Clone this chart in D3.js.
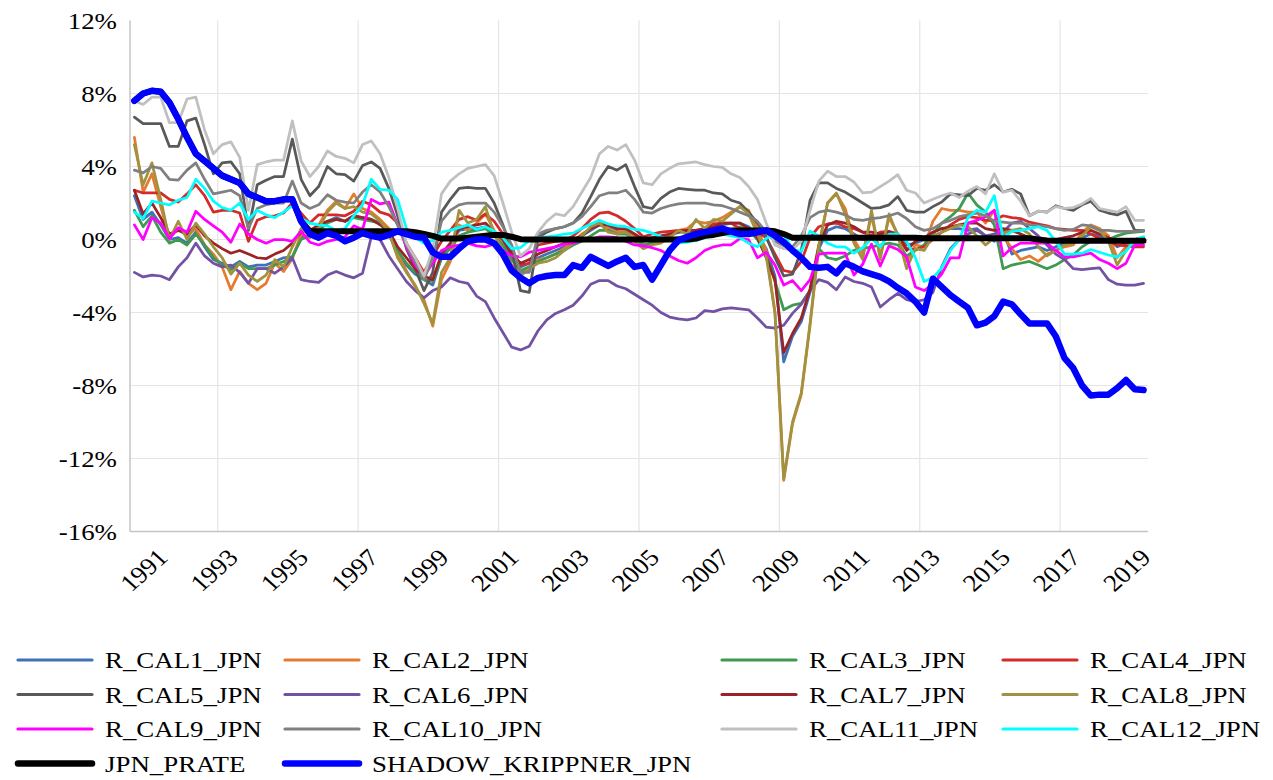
<!DOCTYPE html>
<html>
<head>
<meta charset="utf-8">
<script src="https://cdn.jsdelivr.net/npm/d3@7"></script>
<style>
  html, body { margin: 0; padding: 0; background: #ffffff; }
  svg { display: block; }
  text { font-family: "Liberation Serif", "Times New Roman", Times, serif; }
</style>
</head>
<body>
<svg id="chart" width="1273" height="780"></svg>
<script>
// Quarterly observations, 1990Q2 .. 2019Q1
const startYear = 1990, startQuarter = 2, quarterCount = 116;
const quarters = d3.range(quarterCount).map(k => {
  const q = startQuarter - 1 + k;
  return `${startYear + Math.floor(q / 4)}Q${(q % 4) + 1}`;
});
const yearLabels = ["1991","1993","1995","1997","1999","2001","2003","2005","2007","2009","2011","2013","2015","2017","2019"];
const gridQuarters = ["1992Q4","1996Q4","2000Q4","2004Q4","2008Q4","2012Q4","2016Q4"];
const yTickValues = [-16, -12, -8, -4, 0, 4, 8, 12];

// Rates, percent
const R_CAL1_JPN = [
  2.4, 1.1, 1.5, 0.8, 0.0, 0.1, -0.2, 0.4, -0.4, -1.1,
  -1.3, -1.5, -1.2, -1.5, -1.4, -1.4, -1.2, -1.0, -0.95, 0.1,
  0.2, 0.5, 1.0, 1.2, 1.0, 1.3, 1.2, 1.1, 0.9, 0.3,
  -0.8, -1.4, -1.9, -2.2, -2.5, -1.0, -0.4, 0.5, 0.6, 0.6,
  0.7, 0.3, -0.2, -1.0, -1.5, -1.3, -1.0, -0.8, -0.6, -0.4,
  -0.1, 0.2, 0.5, 0.8, 0.7, 0.5, 0.5, 0.2, -0.1, 0.0,
  0.1, 0.2, 0.4, 0.4, 0.5, 0.5, 0.6, 0.8, 0.9, 0.9,
  0.7, 0.3, -0.5, -2.0, -6.7, -5.3, -4.5, -2.9, -0.5, 0.5,
  0.7, 0.6, 0.3, 0.0, 0.2, 0.0, 0.3, 0.2, -0.3, -0.2,
  0.0, 0.4, 0.6, 0.6, 0.6, 0.5, 0.6, 0.2, -0.1, 0.4,
  -0.8, -0.6, -0.5, -0.4, -0.6, -0.4, -0.2, -0.1, 0.1, 0.3,
  0.2, 0.0, -0.4, -0.2, 0.0, 0.1
];
const R_CAL2_JPN = [
  5.6, 2.6, 3.6, 1.8, 0.1, 0.6, 0.2, 0.6, -0.3, -0.8,
  -1.5, -2.75, -1.75, -2.4, -2.75, -2.4, -1.3, -1.75, -1.05, 0.3,
  0.1, 0.8, 1.6, 2.1, 1.7, 2.5, 1.7, 1.5, 1.1, 0.6,
  -0.8, -1.7, -2.6, -3.3, -4.75, -2.2, -1.2, 0.8, 0.5, 0.9,
  1.4, 0.5, -0.3, -1.4, -1.9, -1.5, -1.1, -1.0, -0.8, -0.5,
  -0.1, 0.3, 0.6, 1.0, 0.6, 0.4, 0.6, 0.2, -0.3, -0.2,
  0.0, 0.3, 0.5, 0.6, 1.0, 0.9, 1.0, 1.2, 1.5, 1.8,
  1.6, 0.6, -0.6, -4.0, -13.2, -10.1, -8.5, -4.7, -0.4, 2.0,
  2.5, 1.7, 0.0, -0.8, 1.3, -0.9, 1.2, 0.3, -1.2, -0.3,
  -0.4, 1.0, 1.7, 1.6, 1.6, 1.5, 1.5, 0.9, 1.6, 0.2,
  -0.5, -1.1, -0.9, -1.2, -0.8, -0.6, -0.4, -0.3, 0.4, 0.8,
  0.6, 0.2, -1.0, -0.4, 0.0, 0.1
];
const R_CAL3_JPN = [
  1.6, 0.7, 1.3, 0.4, -0.2, 0.0, -0.3, 0.3, -0.3, -1.0,
  -1.4, -1.65, -1.3, -1.6, -1.6, -1.6, -1.4, -1.2, -0.95, 0.0,
  0.2, 0.5, 0.9, 1.1, 1.0, 1.2, 1.1, 1.0, 0.9, 0.3,
  -0.6, -1.3, -1.8, -2.2, -2.3, -1.0, -0.5, 0.2, 0.4, 0.5,
  0.6, 0.2, -0.3, -1.1, -1.7, -1.5, -1.2, -1.0, -0.8, -0.6,
  -0.3, -0.1, 0.2, 0.5, 0.5, 0.3, 0.3, 0.0, -0.3, -0.2,
  -0.1, 0.0, 0.1, 0.2, 0.3, 0.3, 0.4, 0.5, 0.6, 0.7,
  0.5, 0.0, -0.8, -2.3, -3.85, -3.6, -3.5, -2.8, -0.5, -1.0,
  -1.1, -0.9, -0.6, -0.5, -0.4, -0.3, -0.2, -0.3, -0.9, -0.6,
  -0.3, 0.3, 0.9, 1.25, 1.7, 2.55, 1.9, 1.5, 0.8, -1.6,
  -1.4, -1.3, -1.2, -1.4, -1.6, -1.4, -1.1, -0.85, -0.4, -0.1,
  -0.1, 0.0, 0.2, 0.35, 0.4, 0.45
];
const R_CAL4_JPN = [
  2.7, 2.55, 2.55, 2.55, 2.2, 2.05, 2.5, 3.0, 2.4, 1.5,
  1.6, 1.6, 1.45, -0.1, 1.05, 1.25, 1.3, 1.45, 2.0, 1.45,
  0.9, 1.35, 1.35, 1.35, 1.3, 1.55, 2.1, 1.9, 1.5, 1.35,
  0.9, -0.2, -1.0, -1.8, -0.9, -0.1, 0.5, 1.1, 1.25, 1.05,
  1.4, 1.0, 0.3, -0.6, -1.4, -1.3, -0.3, -0.2, -0.1, -0.05,
  0.2, 0.6, 1.1, 1.45, 1.5, 1.3, 1.0, 0.6, 0.15, 0.3,
  0.4, 0.45, 0.5, 0.5, 0.5, 0.6, 0.85, 0.9, 0.9, 0.6,
  0.5, 0.4, 0.1, -0.8, -1.7, -1.8, -1.2, 0.1, 0.7, 0.85,
  0.9, 0.7, 0.6, 0.4, 0.2, 0.4, 0.45, 0.3, -0.5, -0.55,
  -0.4, 0.0, 0.4, 0.8, 1.1, 1.25, 1.2, 1.05, 1.05, 1.3,
  1.2, 1.15, 0.95, 0.85, 0.75, 0.6, 0.55, 0.5, 0.5, 0.3,
  0.05, -0.1, -0.3, -0.35, -0.4, -0.4
];
const R_CAL5_JPN = [
  6.7, 6.35, 6.35, 6.35, 5.1, 5.1, 6.5, 6.65, 5.2, 3.6,
  4.2, 4.25, 3.6, 0.5, 3.0, 3.25, 3.45, 3.45, 5.5, 3.3,
  2.4, 2.9, 4.0, 3.6, 3.55, 3.2, 4.05, 4.25, 3.9, 2.8,
  1.3, -0.5, -1.6, -2.8, -1.8, 1.5, 2.2, 2.8, 2.85, 2.8,
  2.8, 2.0, 0.8, -0.6, -2.8, -2.9, 0.1, 0.4, 0.6, 0.7,
  0.9, 1.45, 2.35, 3.3, 4.0, 3.8, 4.1, 2.9, 1.8, 1.7,
  2.25, 2.6, 2.8, 2.75, 2.7, 2.7, 2.55, 2.5, 2.15, 2.0,
  1.5, 0.9, 0.15, -1.0, -2.0, -1.9, -0.6, 2.15, 3.1, 3.1,
  2.8, 2.6, 2.3, 2.0, 1.7, 1.75, 1.9, 2.35, 1.6, 1.5,
  1.5, 1.8, 2.05, 2.5, 2.45, 2.4, 2.8, 2.7, 3.0, 2.6,
  2.75, 2.5, 1.3, 1.55, 1.5, 1.85, 1.7, 1.6, 1.9, 2.1,
  1.6, 1.45, 1.35, 1.55, 0.5, 0.5
];
const R_CAL6_JPN = [
  -1.8, -2.05, -1.95, -2.0, -2.2, -1.5, -1.0, -0.2, -0.9, -1.3,
  -1.5, -1.4, -1.8, -2.4, -1.6, -1.6, -1.85, -1.5, -1.0, -2.2,
  -2.3, -2.35, -1.95, -1.75, -1.95, -2.1, -1.85, 0.15, 0.0, -0.9,
  -1.6, -2.3, -2.8, -3.2, -2.8, -2.6, -2.1, -2.3, -2.4, -3.1,
  -3.4, -4.3, -5.1, -5.9, -6.05, -5.85, -5.0, -4.4, -4.05, -3.85,
  -3.6, -3.1, -2.45, -2.25, -2.25, -2.55, -2.7, -3.0, -3.3, -3.6,
  -4.0, -4.25, -4.35, -4.4, -4.3, -3.9, -3.95, -3.8, -3.75, -3.8,
  -3.85, -4.3, -4.8, -4.85, -4.7, -4.05, -3.55, -2.8, -2.2, -2.35,
  -2.75, -2.05, -2.3, -2.4, -2.6, -3.7, -3.3, -2.95, -3.3, -3.4,
  -3.3, -2.9, -1.5, -0.5, 0.0, 0.3, 0.5, 0.2, 0.3, 0.4,
  0.9, 1.0, 0.6, 0.2, -0.3, -0.8, -1.1, -1.6, -1.65, -1.6,
  -1.55, -2.2, -2.45, -2.5, -2.5, -2.4
];
const R_CAL7_JPN = [
  2.7, 1.4, 2.0, 1.2, 0.3, 0.5, 0.3, 0.8, 0.2, -0.2,
  -0.5, -0.75, -0.6, -0.8, -1.0, -1.05, -0.8, -0.6, -0.2, 0.4,
  0.5, 0.8, 1.0, 1.1, 1.0, 1.3, 1.2, 1.1, 0.8, 0.5,
  -0.4, -1.0, -1.6, -2.0, -2.2, -0.8, -0.2, 0.6, 0.7, 0.8,
  0.9, 0.4, 0.0, -0.8, -1.3, -1.1, -0.8, -0.6, -0.4, -0.2,
  0.0, 0.2, 0.6, 0.8, 0.8, 0.6, 0.6, 0.3, 0.0, 0.1,
  0.2, 0.3, 0.4, 0.5, 0.5, 0.6, 0.7, 0.9, 0.9, 0.9,
  0.6, 0.1, -1.0, -2.2, -6.2, -5.15, -4.3, -2.7, -0.3, 0.8,
  1.0, 0.9, 0.7, 0.4, 0.4, 0.3, 0.4, 0.3, -0.6, -0.1,
  0.1, 0.4, 0.6, 0.7, 0.8, 0.9, 0.9, 0.6, 0.5, 0.6,
  0.5, 0.3, 0.1, 0.0, -0.1, 0.0, 0.1, 0.2, 0.4, 0.5,
  0.3, 0.1, -0.1, -0.2, 0.0, 0.1
];
const R_CAL8_JPN = [
  5.2, 3.0, 4.2, 2.2, 0.0, 1.0, 0.0, 0.9, 0.3, -0.4,
  -1.0, -1.9, -1.3, -1.95, -2.3, -1.95, -1.1, -1.5, -0.4, 0.6,
  0.2, 0.6, 1.5, 2.0, 1.7, 1.8, 1.5, 1.4, 1.0, 0.4,
  -1.0, -1.8, -2.5, -3.5, -4.6, -1.8, -1.0, 1.6, 0.9, 1.1,
  1.8, 0.3, -0.6, -1.6, -2.0, -1.6, -1.3, -1.2, -1.0, -0.6,
  -0.2, 0.2, 0.7, 0.9, 0.4, 0.3, 0.4, -0.1, -0.5, -0.3,
  -0.2, 0.1, 0.5, 0.3, 1.1, 0.6, 1.1, 1.0, 1.4, 1.8,
  1.4, 0.3, -0.9, -4.0, -13.1, -10.0, -8.4, -4.6, -0.3, 2.0,
  2.55, 1.4, -0.2, -1.1, 1.6, -1.1, 1.4, 0.2, -1.6, -0.5,
  -0.6, 0.2, 0.4, 0.6, 0.8, 0.7, 0.2, -0.3, 0.1, 0.35,
  0.5, 0.6, 0.3, -0.4, -0.9, -0.6, -0.3, -0.2, 0.2, 0.7,
  0.5, -0.1, -1.4, -0.6, -0.1, 0.0
];
const R_CAL9_JPN = [
  0.8, 0.0, 1.2, 0.9, 0.05, 0.65, 0.4, 1.55, 1.1, 0.75,
  0.4, -0.15, 0.85, 0.3, 0.0, -0.2, 0.0, 0.0, -0.1, 0.45,
  -0.15, -0.3, -0.1, 0.0, 0.15, 0.75, 0.55, 2.2, 1.95, 2.05,
  0.8, -0.4, -1.4, -2.0, -1.3, -0.6, -0.4, -0.3, -0.2, -0.35,
  -0.4, -0.25, -0.6, -0.9, -0.95, -0.7, -0.6, -0.5, -0.4, -0.25,
  -0.2, -0.05, 0.0, 0.15, 0.15, 0.1, -0.1, -0.3, -0.35, -0.45,
  -0.6, -0.9, -1.15, -1.3, -1.0, -0.6, -0.4, -0.3, -0.3, 0.05,
  0.0, -1.0, -0.7, -1.4, -2.5, -2.25, -2.8, -2.2, -0.8, -0.75,
  -0.75, -0.75, -1.95, -1.35, -0.25, -1.45, -0.35, -0.55, -0.95, -2.6,
  -2.8, -2.45, -1.9, -1.0, -1.0, 0.9, 1.05, 1.25, 1.6, -0.9,
  -0.45, -0.2, -0.2, -0.2, -0.2, -0.6, -0.95, -0.95, -0.85, -0.75,
  -1.1, -1.3, -1.6, -1.3, -0.3, -0.3
];
const R_CAL10_JPN = [
  3.8, 3.65, 4.0, 3.9, 3.3, 3.25, 3.8, 4.2, 3.3, 2.5,
  2.6, 2.7, 2.4, 0.6, 1.7, 1.9, 2.0, 2.0, 3.2, 2.0,
  1.7, 1.9, 2.45, 2.15, 2.05, 2.0, 2.6, 3.0, 2.6, 1.8,
  0.8, -0.3, -1.2, -2.2, -1.0, 1.0, 1.6, 1.9, 2.0, 2.0,
  2.0, 1.5, 0.7, -0.3, -1.8, -1.8, 0.3, 0.5, 0.6, 0.7,
  0.9, 1.25, 1.8, 2.4, 2.55, 2.55, 2.7, 2.2, 1.5, 1.45,
  1.7, 1.85, 1.95, 2.0, 2.0, 2.0, 1.9, 1.85, 1.7, 1.5,
  1.3, 1.0, 0.4, -0.1, -0.35, -0.4, 0.2, 1.2, 1.5, 1.6,
  1.5, 1.35, 1.1, 1.05, 1.15, 1.2, 1.3, 1.45, 1.15, 0.7,
  0.5, 0.6, 0.9, 1.05, 1.25, 1.35, 1.45, 1.3, 1.0, 0.95,
  0.9, 0.9, 0.8, 0.75, 0.7, 0.6, 0.5, 0.55, 0.8, 0.75,
  0.5, 0.5, 0.45, 0.45, 0.45, 0.5
];
const R_CAL11_JPN = [
  7.6, 7.4, 7.8, 7.8, 6.4, 6.4, 7.7, 7.8, 6.0, 4.7,
  5.2, 5.35, 4.5, 1.6, 4.1, 4.25, 4.35, 4.35, 6.5, 4.3,
  3.45, 4.0, 4.85, 4.55, 4.45, 4.2, 5.2, 5.4, 4.7, 3.4,
  1.7, -0.2, -1.0, -2.0, -0.5, 2.5, 3.2, 3.6, 3.9, 4.0,
  4.1, 3.5, 2.0, 0.4, -0.9, -0.5, 0.4, 1.0, 1.4, 1.3,
  1.8, 2.6, 3.4, 4.7, 5.1, 4.9, 5.2, 4.35, 3.1, 3.0,
  3.6, 3.9, 4.15, 4.2, 4.25, 4.1, 4.0, 3.95, 3.6, 3.4,
  2.9, 2.2, 0.9, -0.3, -0.5, -0.55, -0.1, 1.6, 3.2, 3.75,
  3.45, 3.45, 3.15, 2.55, 2.6, 2.9, 3.2, 3.55, 2.7, 2.55,
  2.0, 2.2, 2.4, 2.55, 2.3, 2.65, 2.9, 2.5, 3.6, 2.6,
  2.7, 2.1, 1.3, 1.55, 1.5, 1.8, 1.7, 1.75, 1.95, 2.25,
  1.7, 1.6, 1.5, 1.8, 1.05, 1.05
];
const R_CAL12_JPN = [
  1.5, 1.15, 2.1, 2.0, 1.9, 2.15, 2.3, 3.3, 2.8, 2.1,
  1.75, 1.6, 2.0, 1.1, 1.6, 1.35, 1.2, 1.5, 1.85, 1.15,
  0.9, 0.8, 0.75, 0.5, 0.6, 1.3, 1.9, 3.3, 2.75, 2.7,
  2.2, 0.6, 0.1, -0.2, -0.05, 0.4, 0.5, 0.65, 0.8, 0.55,
  0.7, 0.45, 0.1, -0.5, -0.45, -0.05, 0.1, 0.15, 0.2, 0.3,
  0.35, 0.6, 0.85, 1.05, 0.85, 0.75, 0.7, 0.55, 0.5, 0.35,
  0.15, 0.0, -0.2, -0.15, -0.05, 0.1, 0.2, 0.3, 0.2, 0.1,
  -0.2, -0.4, 0.05, 0.3, 0.3, -0.55, -0.65, 0.45, 0.2, -0.2,
  -0.4, -0.4, -0.75, -0.45, 0.05, -0.4, 0.3, 0.3, -0.1, -1.0,
  -2.3, -2.1, -1.55, -0.6, 0.0, 1.2, 1.6, 1.5, 2.4, 0.1,
  0.45, 0.5, 0.6, 0.7, 0.5, -0.1, -0.8, -0.8, -0.75, -0.55,
  -0.7, -0.85, -0.95, -0.65, 0.0, 0.15
];
const JPN_PRATE = [
  7.6, 8.0, 8.15, 8.1, 7.5, 6.6, 5.6, 4.7, 4.3, 3.9,
  3.5, 3.3, 3.1, 2.5, 2.3, 2.1, 2.1, 2.2, 2.2, 1.0,
  0.45, 0.45, 0.45, 0.45, 0.45, 0.45, 0.45, 0.45, 0.45, 0.45,
  0.45, 0.45, 0.4, 0.3, 0.2, 0.05, 0.05, 0.05, 0.1, 0.15,
  0.2, 0.25, 0.25, 0.15, 0.02, 0.0, 0.0, 0.0, 0.0, 0.0,
  0.0, 0.0, 0.0, 0.0, 0.0, 0.0, 0.0, 0.0, 0.0, 0.0,
  0.0, 0.0, 0.0, 0.0, 0.05, 0.2, 0.25, 0.35, 0.45, 0.5,
  0.5, 0.5, 0.5, 0.45, 0.3, 0.1, 0.1, 0.1, 0.1, 0.1,
  0.1, 0.1, 0.1, 0.1, 0.1, 0.1, 0.1, 0.1, 0.1, 0.1,
  0.07, 0.07, 0.07, 0.07, 0.07, 0.07, 0.07, 0.07, 0.07, 0.07,
  0.07, 0.07, 0.07, 0.0, -0.05, -0.07, -0.07, -0.07, -0.07, -0.07,
  -0.07, -0.07, -0.07, -0.07, -0.07, -0.07
];
const SHADOW_KRIPPNER_JPN = [
  7.6, 8.0, 8.15, 8.1, 7.5, 6.6, 5.6, 4.7, 4.3, 3.9,
  3.5, 3.3, 3.1, 2.5, 2.3, 2.1, 2.1, 2.2, 2.2, 1.0,
  0.3, 0.1, 0.35, 0.2, -0.1, 0.1, 0.35, 0.2, 0.1, 0.25,
  0.45, 0.3, 0.15, 0.1, -0.7, -0.95, -0.95, -0.5, -0.1, 0.0,
  0.0, -0.2, -0.8, -1.7, -2.1, -2.4, -2.1, -2.0, -1.95, -1.95,
  -1.4, -1.55, -0.95, -1.2, -1.45, -1.2, -1.0, -1.5, -1.4, -2.2,
  -1.4, -0.6, -0.05, 0.15, 0.3, 0.4, 0.5, 0.6, 0.45, 0.3,
  0.3, 0.4, 0.5, 0.2, -0.15, -0.6, -1.0, -1.5, -1.55, -1.5,
  -1.85, -1.3, -1.5, -1.75, -1.9, -2.05, -2.3, -2.65, -2.95, -3.4,
  -4.0, -2.15, -2.6, -3.05, -3.4, -3.75, -4.7, -4.55, -4.2, -3.4,
  -3.55, -4.1, -4.6, -4.6, -4.6, -5.3, -6.5, -7.05, -8.0, -8.55,
  -8.5, -8.5, -8.15, -7.7, -8.2, -8.25
];

const seriesNames = ["R_CAL1_JPN","R_CAL2_JPN","R_CAL3_JPN","R_CAL4_JPN","R_CAL5_JPN","R_CAL6_JPN",
  "R_CAL7_JPN","R_CAL8_JPN","R_CAL9_JPN","R_CAL10_JPN","R_CAL11_JPN","R_CAL12_JPN","JPN_PRATE","SHADOW_KRIPPNER_JPN"];
const seriesValues = [R_CAL1_JPN, R_CAL2_JPN, R_CAL3_JPN, R_CAL4_JPN, R_CAL5_JPN, R_CAL6_JPN,
  R_CAL7_JPN, R_CAL8_JPN, R_CAL9_JPN, R_CAL10_JPN, R_CAL11_JPN, R_CAL12_JPN, JPN_PRATE, SHADOW_KRIPPNER_JPN];

// Styling
const seriesColors = ["#3f70b8","#e37c30","#3d9a50","#d42a2a","#595959","#7352a3",
  "#9b2226","#a0923e","#ff00ff","#808080","#c0c0c0","#00ffff","#000000","#0000ff"];
const seriesWidths = [2.75,2.75,2.75,2.75,2.75,2.75,2.75,2.75,2.75,2.75,2.75,2.75,6,6.5];
const fontStack = "'Liberation Serif', 'Times New Roman', Times, serif";
const textStretch = 1.12;

const svg = d3.select("#chart");
const plotLeft = 130, plotTop = 20.5, plotBottom = 531.5;
const plotRight = plotLeft + quarterCount * 8.775;

const x = d3.scaleBand().domain(quarters).range([plotLeft, plotRight]).paddingInner(0).paddingOuter(0);
const xc = q => x(q) + x.bandwidth() / 2;
const y = d3.scaleLinear().domain([-16, 12]).range([plotBottom, plotTop]);

// Grid
const grid = svg.append("g").attr("stroke", "#e4e4e4").attr("stroke-width", 1.2);
grid.selectAll("line.h").data(yTickValues.filter(v => v > -16 && v < 12)).join("line")
  .attr("x1", plotLeft).attr("x2", plotRight)
  .attr("y1", d => y(d)).attr("y2", d => y(d));
grid.selectAll("line.v").data(gridQuarters).join("line")
  .attr("x1", d => x(d)).attr("x2", d => x(d))
  .attr("y1", plotTop).attr("y2", plotBottom);

// Axis lines
svg.append("line").attr("x1", plotLeft).attr("x2", plotLeft).attr("y1", plotTop).attr("y2", plotBottom)
  .attr("stroke", "#c4c4c4").attr("stroke-width", 1.5);
svg.append("line").attr("x1", plotLeft).attr("x2", plotRight).attr("y1", plotBottom).attr("y2", plotBottom)
  .attr("stroke", "#c4c4c4").attr("stroke-width", 1.5);

// Y tick labels
const fmtPct = d => `${d}%`;
svg.append("g").selectAll("text").data(yTickValues).join("text")
  .attr("transform", d => `translate(117,${y(d)}) scale(${textStretch},1)`)
  .attr("text-anchor", "end").attr("dy", "0.35em")
  .attr("font-family", fontStack).attr("font-size", 24).attr("fill", "#000")
  .text(fmtPct);

// X tick labels, rotated
svg.append("g").selectAll("text").data(yearLabels).join("text")
  .attr("transform", d => `translate(${xc(d + "Q1") + 2},553) scale(${textStretch},1) rotate(-45)`)
  .attr("text-anchor", "end").attr("dy", "0.35em")
  .attr("font-family", fontStack).attr("font-size", 24).attr("fill", "#000")
  .text(d => d);

// Series
const line = d3.line().x((d, i) => xc(quarters[i])).y(d => y(d));
const lines = svg.append("g").attr("fill", "none").attr("stroke-linejoin", "round").attr("stroke-linecap", "round");
seriesValues.forEach((vals, k) => {
  lines.append("path").datum(vals)
    .attr("d", line)
    .attr("stroke", seriesColors[k])
    .attr("stroke-width", seriesWidths[k]);
});

// Legend
const legendColumns = [18, 285, 722, 1003];
const legendRows = [660, 694.5, 729, 763.5];
const legend = svg.append("g");
seriesNames.forEach((name, k) => {
  const cx = legendColumns[k % 4], cy = legendRows[Math.floor(k / 4)];
  legend.append("line")
    .attr("x1", cx).attr("x2", cx + 74).attr("y1", cy).attr("y2", cy)
    .attr("stroke", seriesColors[k])
    .attr("stroke-width", k >= 12 ? 6.5 : 3.2)
    .attr("stroke-linecap", "round");
  legend.append("text")
    .attr("transform", `translate(${cx + 87},${cy}) scale(${textStretch},1)`)
    .attr("dy", "0.35em")
    .attr("font-family", fontStack).attr("font-size", 24).attr("fill", "#000")
    .text(name);
});
</script>
</body>
</html>
